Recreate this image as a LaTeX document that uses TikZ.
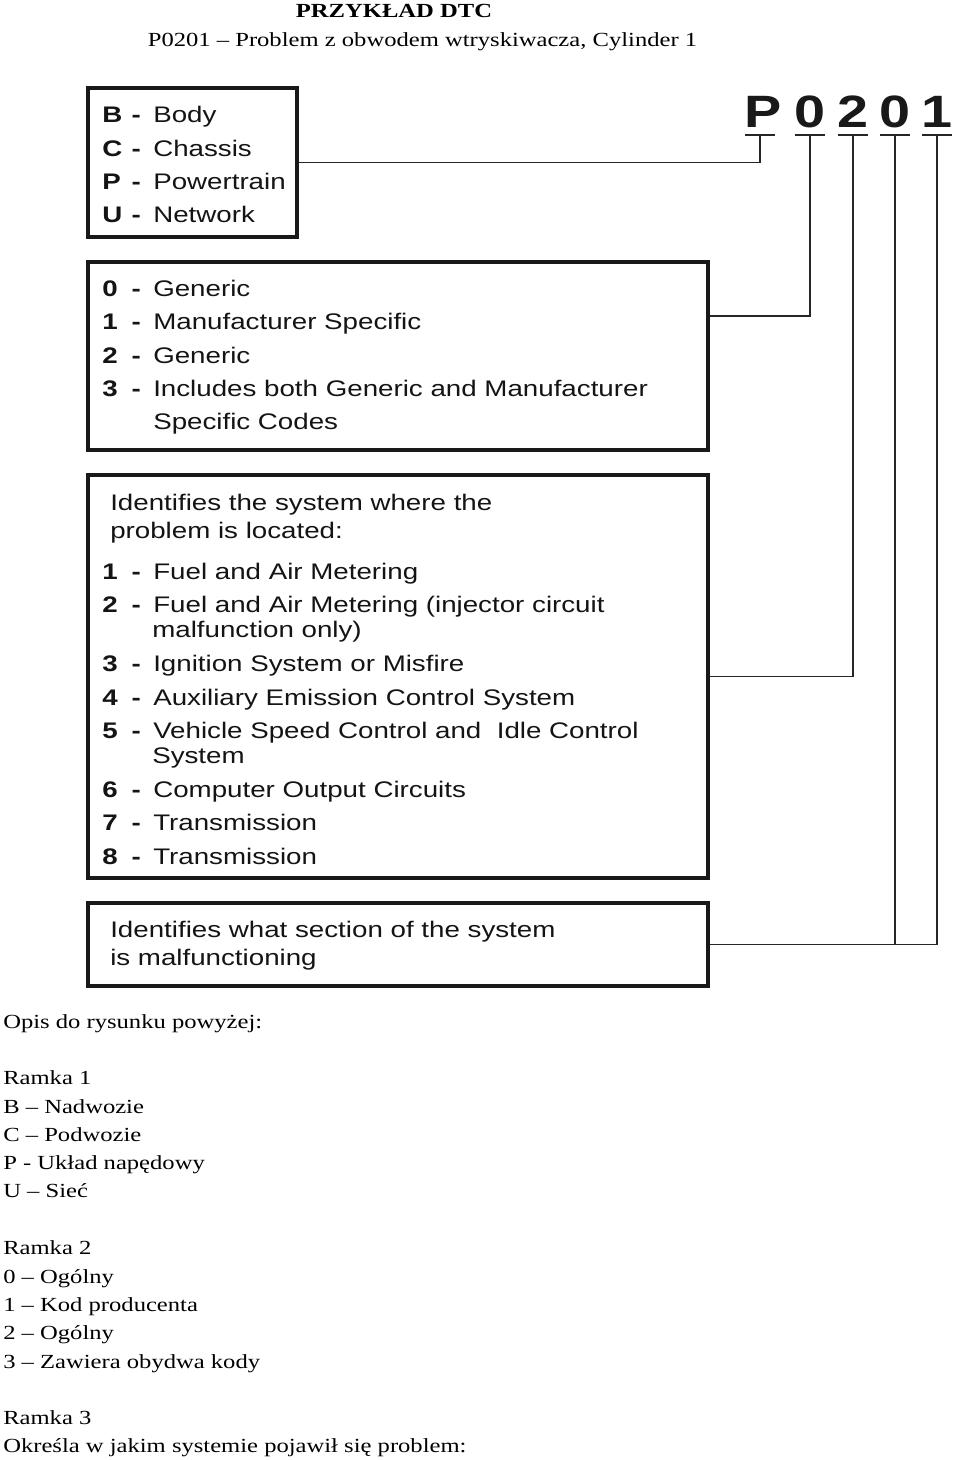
\documentclass[tikz,border=0pt]{standalone}
\usepackage{fontspec}
\setmainfont{Liberation Serif}[FakeStretch=1.23]
\newfontfamily\hv{Liberation Sans}[FakeStretch=1.23]
\usetikzlibrary{fit,calc}
\newcommand\itm[2]{\makebox[22pt][l]{\bfseries #1}\makebox[16.25pt][l]{\bfseries -}#2}
\begin{document}
\begin{tikzpicture}[x=0.75pt,y=-0.75pt,
  box/.style={draw=black!90, line width=3.5pt, inner sep=0pt},
  conn/.style={line width=1.1pt, draw=black!85},
  uline/.style={line width=1.8pt, draw=black!85},
  lab/.style={anchor=base west, inner sep=0pt, font=\hv\fontsize{16.9}{20}\selectfont, text=black!92},
  big/.style={anchor=base, inner sep=0pt, font=\hv\bfseries\fontsize{34}{38}\selectfont, text=black!90},
  desc/.style={anchor=base west, inner sep=0pt, font=\fontsize{15}{18}\selectfont},
  ttl/.style={anchor=base, inner sep=0pt, font=\fontsize{15}{18}\selectfont},
]
\useasboundingbox[fill=white] (0,0) rectangle (960,1460);

% titles
\node[ttl, font=\bfseries\fontsize{15}{18}\selectfont] (title) at (394,17) {PRZYKŁAD DTC};
\node[ttl] (subtitle) at (422.5,46) {P0201 -- Problem z obwodem wtryskiwacza, Cylinder 1};

% code characters
\node[big] (dP) at (763,127) {P};
\node[big] (d0a) at (810,127) {0};
\node[big] (d2) at (853,127) {2};
\node[big] (d0b) at (895,127) {0};
\node[big] (d1) at (937,127) {1};
\coordinate (uP) at (760,135);
\coordinate (u0a) at (810,135);
\coordinate (u2) at (853,135);
\coordinate (u0b) at (895,135);
\coordinate (u1) at (937,135);
\foreach \u in {uP,u0a,u2,u0b,u1}
  \draw[uline] ($(\u)+(-15,0)$) -- ($(\u)+(15,0)$);

% boxes
\coordinate (b1a) at (88,88);   \coordinate (b1b) at (297,237);
\coordinate (b2a) at (88,262);  \coordinate (b2b) at (708,450);
\coordinate (b3a) at (88,475);  \coordinate (b3b) at (708,878);
\coordinate (b4a) at (88,903);  \coordinate (b4b) at (708,986);
\node[box, fit=(b1a)(b1b)] (b1) {};
\node[box, fit=(b2a)(b2b)] (b2) {};
\node[box, fit=(b3a)(b3b)] (b3) {};
\node[box, fit=(b4a)(b4b)] (b4) {};

% box 1
\node[lab] (t11) at (102,122) {\itm{B}{Body}};
\node[lab] (t12) at (102,156) {\itm{C}{Chassis}};
\node[lab] (t13) at (102,189) {\itm{P}{Powertrain}};
\node[lab] (t14) at (102,222) {\itm{U}{Network}};

% box 2
\node[lab] (t21) at (102,296) {\itm{0}{Generic}};
\node[lab] (t22) at (102,329.5) {\itm{1}{Manufacturer Specific}};
\node[lab] (t23) at (102,363) {\itm{2}{Generic}};
\node[lab] (t24) at (102,396) {\itm{3}{Includes both Generic and Manufacturer}};
\node[lab] (t25) at (153,429) {Specific Codes};

% box 3
\node[lab] (t30) at (110,510) {Identifies the system where the};
\node[lab] (t30b) at (110,538) {problem is located:};
\node[lab] (t31) at (102,579.5) {\itm{1}{Fuel and Air Metering}};
\node[lab] (t32) at (102,612.5) {\itm{2}{Fuel and Air Metering (injector circuit}};
\node[lab] (t32b) at (152,637.5) {malfunction only)};
\node[lab] (t33) at (102,671.5) {\itm{3}{Ignition System or Misfire}};
\node[lab] (t34) at (102,705.5) {\itm{4}{Auxiliary Emission Control System}};
\node[lab] (t35) at (102,738.5) {\itm{5}{Vehicle Speed Control and\ \ Idle Control}};
\node[lab] (t35b) at (152,763.5) {System};
\node[lab] (t36) at (102,797.5) {\itm{6}{Computer Output Circuits}};
\node[lab] (t37) at (102,830.5) {\itm{7}{Transmission}};
\node[lab] (t38) at (102,864.5) {\itm{8}{Transmission}};

% box 4
\node[lab] (t41) at (110,937) {Identifies what section of the system};
\node[lab] (t42) at (110,965) {is malfunctioning};

% connectors
\draw[conn] (b1.east) -| (uP);
\draw[conn] ([yshift=30pt]b2.east) -| (u0a);
\draw[conn] (b3.east) -| (u2);
\draw[conn] (b4.east) -| (u1);
\draw[conn] (u0b) -- (u0b |- b4.east);

% description
\node[desc] (p0) at (3,1028) {Opis do rysunku powyżej:};
\node[desc] (p1) at (3,1084) {Ramka 1};
\node[desc] (p2) at (3,1113) {B -- Nadwozie};
\node[desc] (p3) at (3,1141) {C -- Podwozie};
\node[desc] (p4) at (3,1169) {P - Układ napędowy};
\node[desc] (p5) at (3,1197) {U -- Sieć};
\node[desc] (p6) at (3,1254) {Ramka 2};
\node[desc] (p7) at (3,1283) {0 -- Ogólny};
\node[desc] (p8) at (3,1311) {1 -- Kod producenta};
\node[desc] (p9) at (3,1339) {2 -- Ogólny};
\node[desc] (p10) at (3,1368) {3 -- Zawiera obydwa kody};
\node[desc] (p11) at (3,1424) {Ramka 3};
\node[desc] (p12) at (3,1452) {Określa w jakim systemie pojawił się problem:};
\end{tikzpicture}
\end{document}
